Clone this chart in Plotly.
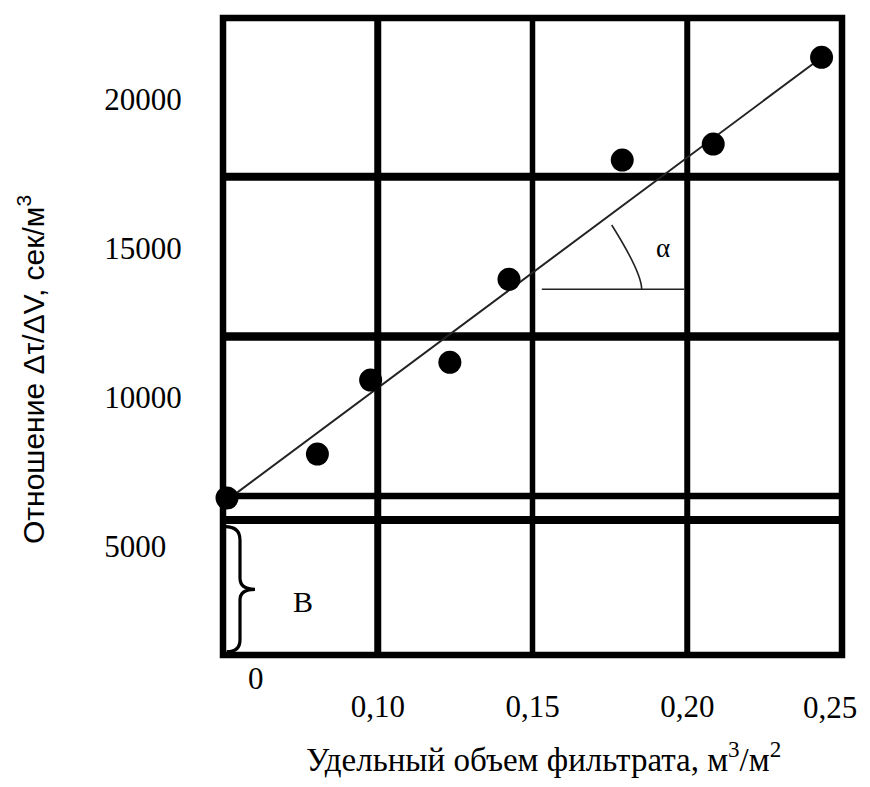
import plotly.graph_objects as go

# ---------------- data ----------------
volume = [0.0513, 0.0805, 0.0977, 0.1233, 0.1424, 0.1790, 0.2084, 0.2434]   # m3/m2
ratio = [6611, 8087, 10570, 11164, 13950, 17953, 18490, 21399]              # s/m3
fit_x = [0.0513, 0.2435]
fit_y = [6540, 21400]

x_tickvals = [0.10, 0.15, 0.20]
x_ticktext = ["0,10", "0,15", "0,20"]
x_last_val = 0.25
x_last_text = "0,25"
y_tickvals = [5000, 10000, 15000, 20000]
y_ticktext = ["5000\u00a0\u00a0", "10000", "15000", "20000"]

# hand-drawn grid of the original (data units)
frame_x = [0.05, 0.25]
frame_y = [1342, 22718]
grid_x = [0.10, 0.15, 0.20]
grid_y = [5872, 6678, 12030, 17393]

# ---------------- styles ----------------
grid_x_w = [7, 5.5, 6]
grid_y_w = [8, 6.3, 8.3, 8]
FRAME_W = 6.5

# the page body adds an 8px margin
OFF = 8
W, H = 870 - OFF, 787 - 2 * OFF
# plot area in page pixels: x 200..860, y 10..674
ML = 200 - OFF
MT = 10 - OFF
MR = W - (860 - OFF)
MB = H - (674 - OFF)
PW, PH = W - ML - MR, H - MT - MB

X_RANGE = [0.042569, 0.255816]
Y_RANGE = [705, 22987]


def px_x(px):
    """page pixel -> paper x"""
    return (px - OFF - ML) / PW


def px_y(py):
    """page pixel -> paper y"""
    return (H - MB - (py - OFF)) / PH


SERIF = "Liberation Serif"
SANS = "Liberation Sans"

fig = go.Figure()

fig.add_trace(go.Scatter(
    x=fit_x, y=fit_y, mode="lines",
    line=dict(color="#222222", width=2),
    hoverinfo="skip", showlegend=False, cliponaxis=False,
))
fig.add_trace(go.Scatter(
    x=volume, y=ratio, mode="markers",
    marker=dict(color="black", size=23, line=dict(width=0)),
    showlegend=False, cliponaxis=False,
))

shapes = []
shapes.append(dict(type="rect", xref="x", yref="y",
                   x0=frame_x[0], x1=frame_x[1], y0=frame_y[0], y1=frame_y[1],
                   line=dict(color="black", width=FRAME_W), layer="below"))
for gx, w in zip(grid_x, grid_x_w):
    shapes.append(dict(type="line", xref="x", yref="y",
                       x0=gx, x1=gx, y0=frame_y[0], y1=frame_y[1],
                       line=dict(color="black", width=w), layer="below"))
for gy, w in zip(grid_y, grid_y_w):
    shapes.append(dict(type="line", xref="x", yref="y",
                       x0=frame_x[0], x1=frame_x[1], y0=gy, y1=gy,
                       line=dict(color="black", width=w), layer="below"))

# angle alpha: horizontal base and arc
shapes.append(dict(type="line", xref="x", yref="y",
                   x0=0.1530, x1=0.1990, y0=13614, y1=13614,
                   line=dict(color="#222222", width=1.6)))
shapes.append(dict(type="path", xref="x", yref="y",
                   path="M 0.17559,15772 Q 0.18528,14171 0.18528,13614",
                   line=dict(color="#222222", width=1.6)))
# brace "B" (intercept)
shapes.append(dict(type="path", xref="x", yref="y",
                   path=("M 0.05065,5648 Q 0.05549,5648 0.05549,5201 "
                         "L 0.05549,3926 Q 0.05549,3547 0.06034,3547 "
                         "Q 0.05549,3547 0.05549,3188 L 0.05549,1846 "
                         "Q 0.05549,1453 0.0512,1453"),
                   line=dict(color="black", width=3.2)))

annotations = [
    # last x tick label, nudged inward so it stays fully visible
    dict(text=x_last_text, xref="x", yref="paper", x=x_last_val, y=px_y(707),
         xshift=-12, xanchor="center", yanchor="middle", showarrow=False,
         font=dict(family=SERIF, size=31, color="black")),
    dict(text="0", xref="paper", yref="paper", x=px_x(256), y=px_y(678),
         xanchor="center", yanchor="middle", showarrow=False,
         font=dict(family=SERIF, size=31, color="black")),
    dict(text="B", xref="paper", yref="paper", x=px_x(302.5), y=px_y(601),
         xanchor="center", yanchor="middle", showarrow=False,
         font=dict(family=SERIF, size=30, color="black")),
    dict(text="α", xref="paper", yref="paper", x=px_x(663), y=px_y(248),
         xanchor="center", yanchor="middle", showarrow=False,
         font=dict(family=SERIF, size=27, color="black")),
    dict(text="Удельный объем фильтрата, м<sup>3</sup>/м<sup>2</sup>",
         xref="paper", yref="paper", x=px_x(543), y=px_y(779),
         xanchor="center", yanchor="bottom", showarrow=False, borderpad=0,
         font=dict(family=SERIF, size=33, color="black")),
    dict(text="Отношение Δτ/ΔV, сек/м<sup>3</sup>",
         xref="paper", yref="paper", x=px_x(31), y=px_y(370),
         xanchor="center", yanchor="middle", showarrow=False, textangle=-90,
         font=dict(family=SANS, size=30, color="black")),
]

fig.update_layout(
    width=W, height=H,
    margin=dict(l=ML, r=MR, t=MT, b=MB, pad=0),
    paper_bgcolor="white", plot_bgcolor="white",
    shapes=shapes, annotations=annotations,
    xaxis=dict(range=X_RANGE, showgrid=False, zeroline=False, showline=False,
               tickmode="array", tickvals=x_tickvals, ticktext=x_ticktext,
               ticks="outside", ticklen=0, tickcolor="white",
               ticklabelstandoff=5, automargin=False,
               tickfont=dict(family=SERIF, size=31, color="black")),
    yaxis=dict(range=Y_RANGE, showgrid=False, zeroline=False, showline=False,
               tickmode="array", tickvals=y_tickvals, ticktext=y_ticktext,
               ticks="outside", ticklen=0, tickcolor="white",
               ticklabelstandoff=11, automargin=False,
               tickfont=dict(family=SERIF, size=31, color="black")),
)

fig.write_html("out.html")
